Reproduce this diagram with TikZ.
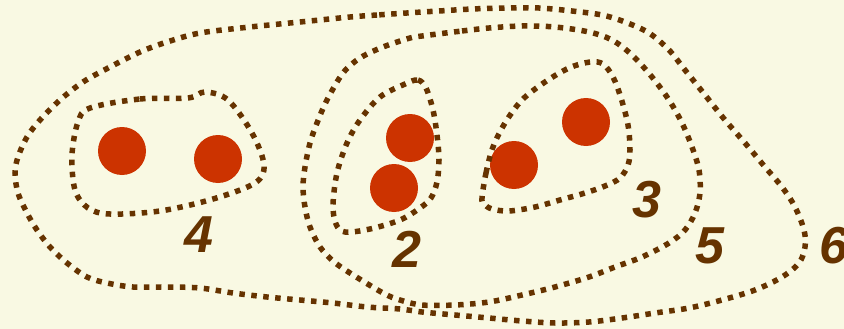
\documentclass[tikz,border=0pt]{standalone}
\usepackage{fontspec}
\setmainfont{Liberation Sans}
\definecolor{bgc}{HTML}{F9F9E3}
\definecolor{dotc}{HTML}{CC3300}
\definecolor{linec}{HTML}{663300}
\tikzset{
  dotnode/.style={circle,fill=dotc,draw=none,minimum size=48pt,inner sep=0pt},
  setline/.style={draw=linec,line width=5.5pt,dash pattern=on 5.5pt off 6.5pt},
  numlabel/.style={text=linec,font=\fontsize{52}{52}\selectfont\bfseries\itshape,inner sep=0pt}
}
\begin{document}
\begin{tikzpicture}[x=1pt,y=-1pt]
\fill[bgc] (0,0) rectangle (844,329);
\useasboundingbox (0,0) rectangle (844,329);
\begin{scope}
\clip (0,0) rectangle (844,329);
% dots
\node[dotnode] (d1) at (122,151) {};
\node[dotnode] (d2) at (218,159) {};
\node[dotnode] (d3) at (410,138) {};
\node[dotnode] (d4) at (394,188) {};
\node[dotnode] (d5) at (514,165) {};
\node[dotnode] (d6) at (586,122) {};
% curve 4
\draw[setline] plot[smooth cycle,tension=0.55] coordinates {(90,108) (140,99) (188,98) (205,92) (228,100) (252,133) (264,165) (255,183) (213,199) (160,211) (110,214) (88,208) (75,190) (72,155) (78,122)};
% curve 2
\draw[setline] plot[smooth cycle,tension=0.55] coordinates {(405,84) (418,80) (426,88) (433,110) (437,135) (439,160) (437,182) (431,198) (420,208) (400,220) (370,229) (345,232) (336,224) (333,205) (337,173) (347,143) (360,120) (380,97)};
% curve 3
\draw[setline] plot[smooth cycle,tension=0.55] coordinates {(482,198) (486,173) (493,147) (505,123) (522,100) (545,82) (569,68) (590,62) (603,64) (613,77) (621,98) (628,125) (630,150) (628,165) (620,178) (605,186) (585,193) (560,200) (535,207) (509,211) (492,209) (484,204)};
% curve 5
\draw[setline] plot[smooth cycle,tension=0.55] coordinates {(422,36) (462,31) (489,28) (522,26) (555,27) (589,32) (612,40) (632,55) (652,77) (669,100) (682,123) (692,147) (699,170) (700,193) (695,213) (685,230) (669,243) (642,257) (615,267) (589,277) (555,287) (522,295) (489,302) (455,305) (422,305) (400,300) (383,293) (350,273) (333,261) (320,247) (310,227) (305,207) (303,187) (305,167) (310,143) (317,123) (327,100) (343,73) (360,58) (383,47) (410,38)};
% curve 6
\draw[setline] plot[smooth cycle,tension=0.55] coordinates {(422,12) (377,15) (350,17) (300,22) (250,27) (200,33) (167,42) (140,52) (110,67) (83,82) (60,100) (40,120) (27,137) (18,157) (15,173) (18,193) (27,213) (37,230) (50,247) (67,263) (87,277) (107,283) (133,287) (167,287) (200,288) (233,293) (267,297) (300,300) (333,303) (367,307) (400,309) (422,312) (455,315) (489,318) (522,321) (555,323) (589,322) (622,318) (655,313) (689,308) (722,300) (755,290) (782,277) (799,263) (805,247) (804,230) (795,207) (782,187) (765,167) (745,143) (725,120) (705,95) (685,70) (669,50) (649,33) (625,22) (602,15) (572,11) (539,8) (505,8) (472,9) (439,11)};
% labels
\node[numlabel] (l4) at (199,235) {4};
\node[numlabel] (l2) at (407,249) {2};
\node[numlabel] (l3) at (647,200) {3};
\node[numlabel] (l5) at (710,246) {5};
\node[numlabel] (l6) at (834,246) {6};
\end{scope}
\end{tikzpicture}
\end{document}
